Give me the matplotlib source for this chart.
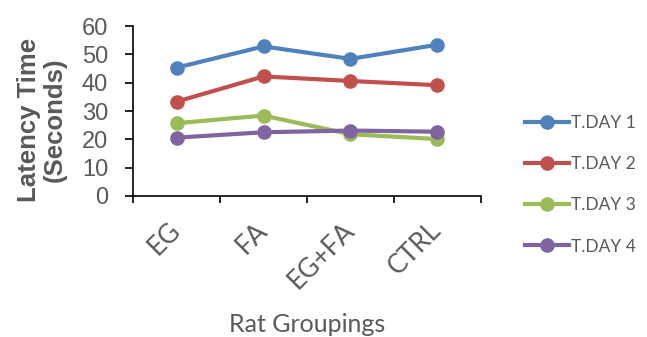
import matplotlib
matplotlib.use("Agg")
import matplotlib.pyplot as plt
import numpy as np

groups = ["EG", "FA", "EG+FA", "CTRL"]
day1 = [45.3, 52.8, 48.4, 53.4]
day2 = [33.3, 42.2, 40.6, 39.1]
day3 = [25.7, 28.4, 21.8, 20.1]
day4 = [20.6, 22.5, 23.1, 22.7]
errs = [1.0, 1.0, 1.0, 1.0]
labels = ["T.DAY 1", "T.DAY 2", "T.DAY 3", "T.DAY 4"]
colors = ["#4F81BD", "#C0504D", "#9BBB59", "#8064A2"]

fig = plt.figure(figsize=(6.47, 3.37), dpi=100)
ax = fig.add_axes([0.2056, 0.4184, 0.5378, 0.5044])

x = np.arange(len(groups)) + 0.5
for vals, lab, c in zip([day1, day2, day3, day4], labels, colors):
    ax.errorbar(x, vals, yerr=errs, fmt="none", ecolor=c, capsize=3, elinewidth=1.2)
    ax.plot(x, vals, color=c, lw=3, marker="o", ms=9.5, label=lab)

ax.set_xlim(0, 4)
ax.set_ylim(0, 60)
ax.set_xticks(np.arange(5))
ax.set_xticklabels([])
ax.set_xticks(x, minor=True)
ax.set_xticklabels(groups, minor=True, rotation=45, ha="right", va="center",
                   rotation_mode="anchor", fontsize=19, color="#595959", family="Lato")
ax.tick_params(axis="x", which="minor", length=0, pad=22)
ax.tick_params(axis="x", which="major", length=5, direction="out", width=1.2)
ax.set_yticks(range(0, 61, 10))
ax.tick_params(axis="y", length=6, width=1.2, labelsize=17, labelcolor="#595959", pad=12)
for t in ax.get_yticklabels():
    t.set_family("Liberation Sans")

for s in ["top", "right"]:
    ax.spines[s].set_visible(False)
for s in ["left", "bottom"]:
    ax.spines[s].set_linewidth(1.2)

ax.set_ylabel("Latency Time\n(Seconds)", fontsize=18.5, fontweight="bold",
              color="#595959", family="Liberation Sans", linespacing=1.1)
ax.yaxis.set_label_coords(-0.19, 0.45)
ax.set_xlabel("Rat Groupings", fontsize=18, color="#595959", family="Lato", labelpad=14)

leg = fig.legend(loc="upper left", bbox_to_anchor=(0.788, 0.705), frameon=False,
                 handlelength=2.5, labelspacing=1.45, handletextpad=0.15,
                 prop={"family": "Lato", "size": 12.5})
for t in leg.get_texts():
    t.set_color("#595959")

fig.savefig("out.png", dpi=100)
